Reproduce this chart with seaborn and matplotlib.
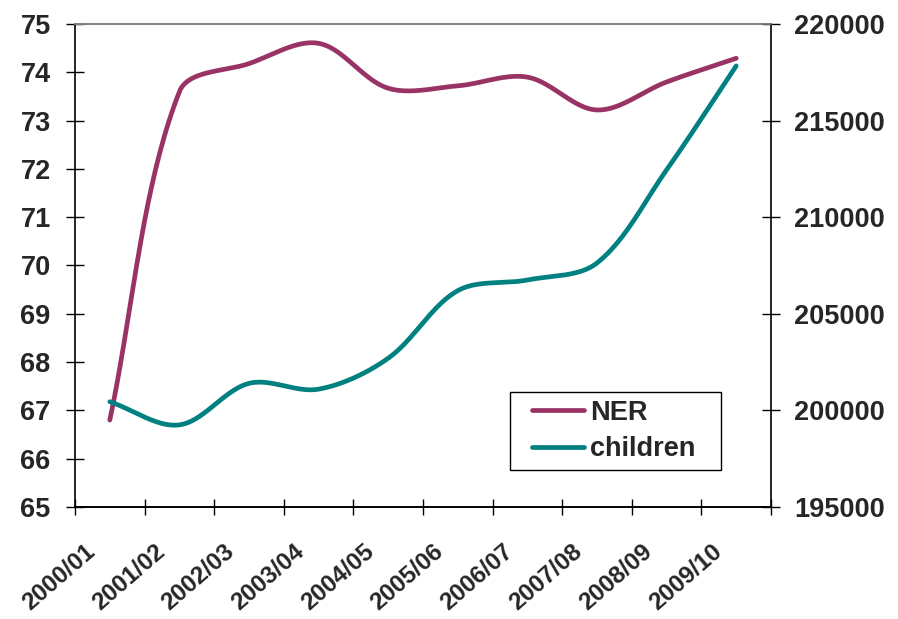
import numpy as np
import pandas as pd
import matplotlib
matplotlib.use("Agg")
import matplotlib.pyplot as plt
from matplotlib.ticker import FixedLocator, FuncFormatter
from matplotlib.transforms import ScaledTranslation
from matplotlib.lines import Line2D
from matplotlib.legend_handler import HandlerLine2D
import seaborn as sns

# School years on the category axis
years = ["2000/01", "2001/02", "2002/03", "2003/04", "2004/05",
         "2005/06", "2006/07", "2007/08", "2008/09", "2009/10"]

# Net enrolment ratio (left axis, %)
ner = [66.8, 73.6, 74.18, 74.6, 73.67, 73.72, 73.9, 73.22, 73.8, 74.29]

# Number of children (right axis)
children = [200450, 199250, 201400, 201100, 202700,
            206200, 206750, 207630, 212450, 217830]

NER_COLOR = "#993366"
CHILD_COLOR = "#008080"
FONT = 19.5
XFONT = 17.5

W, H = 898, 619
AX_L, AX_R, AX_T, AX_B = 75, 771, 24, 507


def bezier_smooth(xv, yv, sx, sy, steps=40):
    """Smoothed line through the points: cubic Bezier segments whose
    control arms are weighted by the on-screen chord lengths."""
    p = np.column_stack([np.asarray(xv, float) * sx,
                         np.asarray(yv, float) * sy])
    n = len(p)
    out = [p[0]]
    t = np.linspace(0, 1, steps)[1:, None]

    def arms(i):
        prev = p[i - 1] if i > 0 else p[i]
        nxt = p[i + 1] if i < n - 1 else p[i]
        tan = nxt - prev
        d1 = np.linalg.norm(p[i] - prev)
        d2 = np.linalg.norm(nxt - p[i])
        tot = d1 + d2 if d1 + d2 > 0 else 1.0
        before = p[i] - tan * d1 / tot / 3.0
        after = p[i] + tan * d2 / tot / 3.0
        return before, after

    for i in range(n - 1):
        c1 = arms(i)[1]
        c2 = arms(i + 1)[0]
        p1, p2 = p[i], p[i + 1]
        seg = ((1 - t) ** 3) * p1 + 3 * ((1 - t) ** 2) * t * c1 \
            + 3 * (1 - t) * t ** 2 * c2 + t ** 3 * p2
        out.extend(seg)
    out = np.array(out)
    return out[:, 0] / sx, out[:, 1] / sy


sns.set_style("white")
plt.rcParams["font.family"] = ["Liberation Sans", "DejaVu Sans"]
plt.rcParams["font.weight"] = "bold"

fig = plt.figure(figsize=(W / 100, H / 100), dpi=100)
ax = fig.add_axes([AX_L / W, 1 - AX_B / H, (AX_R - AX_L) / W,
                   (AX_B - AX_T) / H])
ax2 = ax.twinx()

idx = np.arange(len(years))
df = pd.DataFrame({"year": years, "pos": idx, "NER": ner,
                   "children": children})

px_x = (AX_R - AX_L) / len(years)
px_ner = (AX_B - AX_T) / 10.0
px_child = (AX_B - AX_T) / 25000.0

sx_, sy_ = bezier_smooth(df["pos"], df["NER"], px_x, px_ner)
sns.lineplot(x=sx_, y=sy_, ax=ax, color=NER_COLOR, lw=3.4, sort=False,
             estimator=None, legend=False)
cx_, cy_ = bezier_smooth(df["pos"], df["children"], px_x, px_child)
sns.lineplot(x=cx_, y=cy_, ax=ax2, color=CHILD_COLOR, lw=3.4, sort=False,
             estimator=None, legend=False)

# Left axis
ax.set_ylim(65, 75)
ax.set_yticks(np.arange(65, 76, 1))
ax.set_xlim(-0.5, len(years) - 0.5)
ax.set_ylabel("")
ax.set_xlabel("")

# Right axis
ax2.set_ylim(195000, 220000)
ax2.set_yticks(np.arange(195000, 220001, 5000))
ax2.yaxis.set_major_formatter(FuncFormatter(lambda v, p: f"{int(v)}"))
ax2.set_ylabel("")

# Category axis: tick marks between categories, labels at the centres
ax.xaxis.set_major_locator(FixedLocator(np.arange(-0.5, len(years), 1.0)))
ax.xaxis.set_major_formatter(FuncFormatter(lambda v, p: ""))
ax.xaxis.set_minor_locator(FixedLocator(idx))
ax.set_xticklabels(years, minor=True)
ax.tick_params(axis="x", which="major", direction="inout", length=11.5,
               width=1, color="black", bottom=True)
ax.tick_params(axis="x", which="minor", length=0, pad=24,
               labelsize=XFONT)
shift = ScaledTranslation(-25 / 100, 0, fig.dpi_scale_trans)
for lab in ax.get_xticklabels(minor=True):
    lab.set_rotation(41)
    lab.set_ha("right")
    lab.set_va("top")
    lab.set_rotation_mode("anchor")
    lab.set_fontweight("bold")
    lab.set_transform(lab.get_transform() + shift)

ax.tick_params(axis="y", direction="inout", length=13, width=1,
               color="black", labelsize=FONT, pad=11, left=True)
ax2.tick_params(axis="y", direction="inout", length=13.5, width=1,
                color="black", labelsize=FONT, pad=10, right=True)
for lab in ax.get_yticklabels() + ax2.get_yticklabels():
    lab.set_fontweight("bold")

for a in (ax, ax2):
    for side in ("left", "right", "bottom"):
        a.spines[side].set_color("black")
        a.spines[side].set_linewidth(1.2)
    a.spines["top"].set_color("#808080")
    a.spines["top"].set_linewidth(1.2)
    a.grid(False)
ax.spines["right"].set_visible(False)
ax2.spines["left"].set_visible(False)

# Legend box in the lower right of the plot area
handles = [ax.get_lines()[0], ax2.get_lines()[0]]
lx0 = (510 - AX_L) / (AX_R - AX_L)
lw_ = 211 / (AX_R - AX_L)
ly1 = (AX_B - 392) / (AX_B - AX_T)
leg = ax2.legend(handles, ["NER", "children"], loc="upper left",
                 bbox_to_anchor=(lx0, ly1 - 0.2, lw_, 0.2), mode="expand",
                 borderaxespad=0, frameon=True, fancybox=False,
                 edgecolor="black", framealpha=1,
                 prop={"size": FONT, "weight": "bold"},
                 handler_map={Line2D: HandlerLine2D(xpad=0.55)},
                 handlelength=2.47, handletextpad=0.2, labelspacing=0.4,
                 borderpad=0.28)
leg.get_frame().set_linewidth(1.0)

fig.savefig("out.png", dpi=100, facecolor="white")
